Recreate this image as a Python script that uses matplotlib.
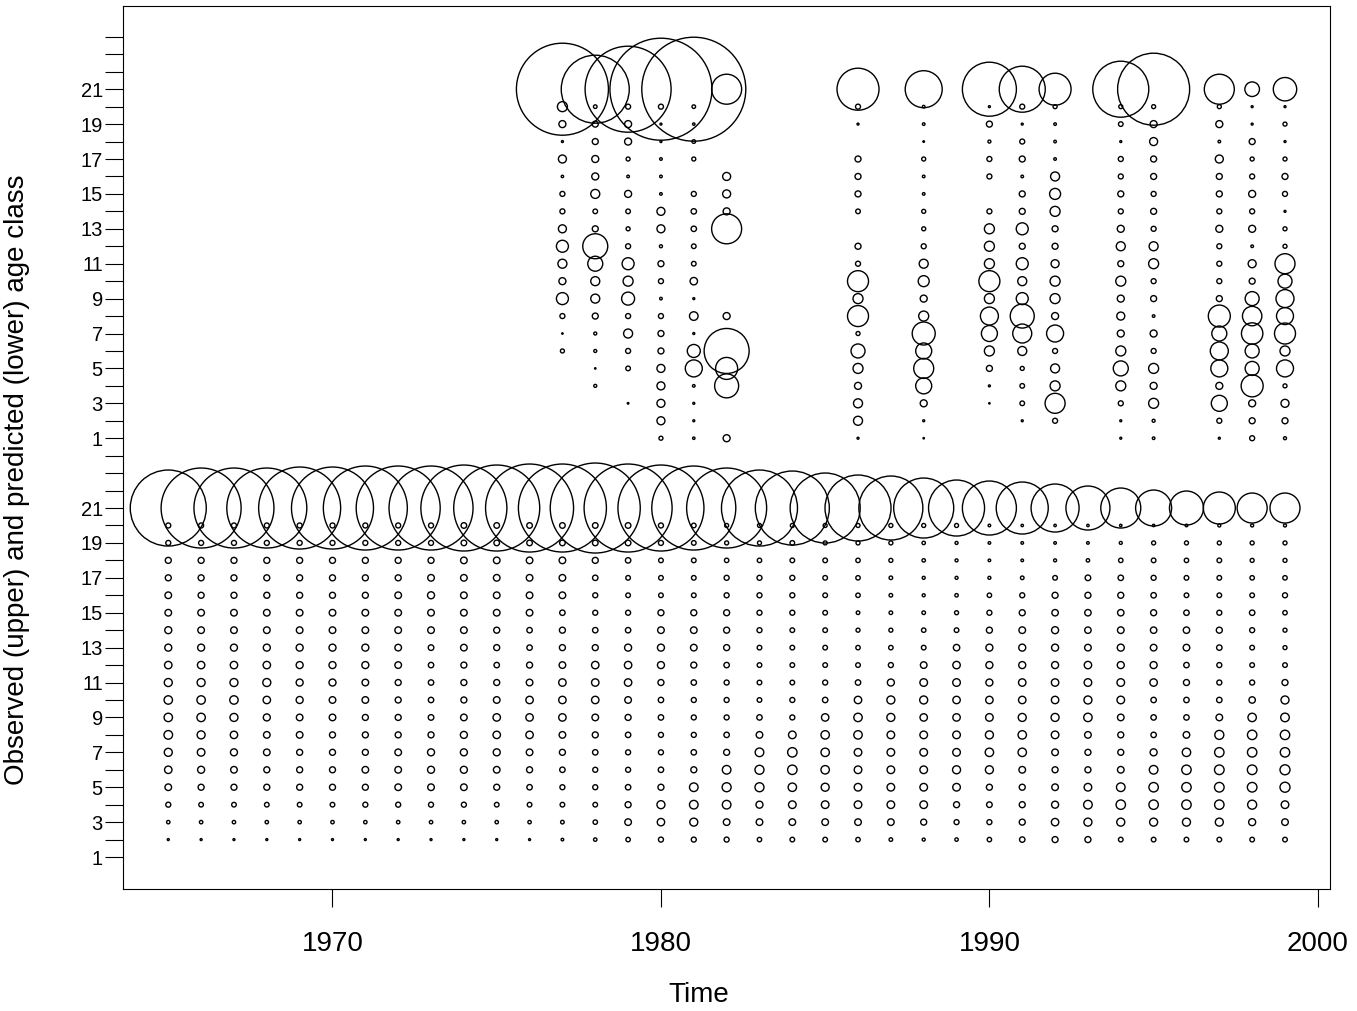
import numpy as np
import matplotlib.pyplot as plt

plt.rcParams['font.family'] = ['Liberation Sans', 'DejaVu Sans']

# bubble radii (symbols-style, circles = radius), predicted catch at age 2..20, 1965-1999
years = list(range(1965, 2000))
pred_plus = [38, 40, 40, 40, 41, 41, 42, 42, 42,
             43, 43, 44, 44, 45, 44, 43, 42, 40, 38,
             37, 35, 33, 32, 30, 28, 27, 26, 24, 22,
             20, 18, 17, 16, 15, 15]   # age 21+
pred = [
    # age 2
    [1, 1, 1, 1, 1, 1, 1, 1, 1, 1, 1, 1, 1.3, 1.7, 2.2, 2.5, 2.5, 2.5, 2.2,
     2.3, 2.3, 2.2, 1.8, 1.5, 1.7, 2.2, 2.7, 3, 3, 2.3, 2.3, 2.3, 2.3, 2.3, 2.3],
    # age 3
    [1.7, 1.7, 1.7, 1.7, 1.7, 1.7, 1.7, 1.7, 1.7, 1.7, 1.7, 1.7, 1.8, 2.2, 3.3, 3.7, 4, 3.3, 3.3,
     3.3, 3.3, 3.3, 3.3, 3, 2.5, 2.5, 3, 3.7, 4, 4, 4, 4, 4, 3.5, 3.3],
    # age 4
    [2.5, 2.3, 2.3, 2.3, 2.3, 2.3, 2.5, 2.5, 2.5, 2.5, 2.3, 2.3, 2.3, 2.3, 3, 4, 4.3, 4.3, 3.5,
     3.8, 3.8, 3.8, 3.8, 3.8, 3, 2.8, 3, 3.5, 4.3, 4.7, 4.7, 4.7, 4.7, 4.5, 3.8],
    # age 5
    [3.3, 3, 3, 3, 3, 3, 3, 3.3, 3.3, 3.3, 3, 2.7, 2.5, 2.5, 2.7, 3, 4.3, 4.5, 4.5,
     4.2, 4, 3.8, 3.8, 3.8, 3.8, 3, 3, 3.3, 3.8, 4.3, 4.7, 4.7, 4.8, 4.8, 5],
    # age 6
    [3.7, 3.5, 3.3, 3, 3, 3, 3.3, 3.3, 3.5, 3.5, 3.3, 3, 2.7, 2.5, 2.5, 2.7, 3, 4.3, 4.5,
     4.7, 4.2, 3.8, 3.8, 3.8, 4, 4, 3.3, 3, 3, 3.3, 4.3, 4.7, 4.8, 4.8, 5],
    # age 7
    [4, 3.8, 3.5, 3.3, 3, 3, 3, 3.3, 3.5, 3.5, 3.5, 3.3, 3, 2.7, 2.5, 2.5, 2.7, 3, 4.3,
     4.7, 4.2, 3.8, 3.8, 3.8, 3.8, 4.2, 4.2, 3.3, 3, 3, 3.5, 4.2, 4.7, 4.7, 4.7],
    # age 8
    [4.3, 4, 3.7, 3.3, 3.3, 3, 3, 3, 3, 3.5, 3.7, 3.7, 3.3, 3, 2.7, 2.5, 2.5, 2.7, 3.3,
     3.8, 4.2, 4.2, 3.8, 3.8, 3.8, 4, 4.2, 3.8, 3.3, 3, 2.7, 3.3, 4.5, 4.7, 4.7],
    # age 9
    [4.2, 4.2, 4, 3.5, 3.3, 3.3, 3, 3, 2.8, 3.3, 3.7, 3.7, 3.7, 3.3, 3, 2.7, 2.5, 2.5, 2.7,
     2.5, 3.7, 4.2, 4, 3.7, 3.7, 3.8, 4, 4, 4.2, 3.3, 2.7, 2.7, 3.3, 4.2, 4.3],
    # age 10
    [4.2, 4.2, 4.2, 3.7, 3.5, 3.3, 3.3, 3, 2.7, 3, 3.3, 3.7, 3.7, 3.7, 3.3, 2.7, 2.5, 2.5, 2.3,
     2.5, 2.7, 3.7, 4, 4, 3.7, 3.7, 3.7, 3.7, 4, 3.8, 2.7, 2.7, 2.7, 3.2, 4],
    # age 11
    [4, 4, 4, 4, 3.5, 3.5, 3.3, 3, 2.7, 3, 3, 3.3, 3.7, 3.7, 3.7, 3, 2.7, 2.5, 2.3,
     2.3, 2.5, 2.7, 3.5, 3.8, 3.8, 3.5, 3.7, 3.7, 3.8, 3.8, 3.7, 3, 2.5, 2.5, 3],
    # age 12
    [3.7, 3.7, 3.7, 3.7, 3.5, 3.5, 3.5, 3.3, 2.7, 3, 2.7, 3, 3.3, 3.7, 3.7, 3.5, 3, 2.7, 2.3,
     2.3, 2.3, 2.3, 2.5, 3.3, 3.7, 3.5, 3.5, 3.5, 3.7, 3.5, 3.5, 2.7, 2.5, 2.3, 2.3],
    # age 13
    [3.5, 3.5, 3.5, 3.5, 3.5, 3.5, 3.5, 3.3, 2.8, 3.3, 3, 2.7, 3, 3, 3.5, 3.5, 3.3, 3, 2.3,
     2.3, 2.3, 2.2, 2.2, 2.3, 3.2, 3.5, 3.5, 3.5, 3.3, 3.5, 3.3, 3.3, 2.7, 2.3, 2],
    # age 14
    [3.5, 3.3, 3.3, 3.3, 3.3, 3.3, 3.3, 3.3, 3.3, 3.3, 3, 2.7, 3, 2.7, 2.7, 3.3, 3.3, 3, 2.5,
     2.3, 2.3, 2, 2, 2.2, 2.3, 3, 3.3, 3.5, 3.2, 3.3, 3.2, 3.2, 3, 2.5, 2],
    # age 15
    [3.3, 3.3, 3.3, 3.3, 3.3, 3.3, 3.3, 3.3, 3.3, 3.3, 3.3, 3.3, 2.7, 2.5, 2.5, 3, 3, 3, 2.5,
     2.5, 2.3, 1.8, 1.8, 1.8, 2, 2.5, 3, 3.2, 3.2, 3.2, 3, 2.7, 2.5, 2.7, 2.2],
    # age 16
    [3.3, 3, 3, 3, 3, 3, 3, 3.3, 3.5, 3.3, 3.3, 3.3, 3.3, 2.5, 2.3, 2.3, 2.3, 2.5, 2.5,
     2.5, 2.3, 2.2, 1.8, 1.5, 1.7, 2.2, 2.5, 3, 3, 3, 2.7, 2.3, 2.3, 2.3, 2.5],
    # age 17
    [3, 3, 3, 3, 3, 3, 3, 3, 3.3, 3.3, 3.3, 3.3, 3.3, 2.7, 2.3, 2.3, 2.3, 2.5, 2.5,
     2.5, 2.3, 2.2, 1.8, 1.5, 1.5, 1.5, 1.8, 2.3, 2.8, 2.7, 2.5, 2.3, 2.3, 2.2, 2.2],
    # age 18
    [3, 3, 3, 3, 3, 3, 3, 3, 3, 3.3, 3.3, 3.3, 3.3, 3, 2.7, 2.3, 2.3, 2.2, 2.2,
     2.3, 2.3, 2.2, 2, 1.7, 1.5, 1.3, 1.3, 1.5, 1.7, 2.2, 2.3, 2.2, 2.3, 2, 2],
    # age 19
    [2.5, 2.5, 2.5, 2.5, 2.5, 2.5, 2.5, 2.5, 2.5, 2.8, 2.8, 2.8, 2.8, 2.8, 2.8, 2.5, 2.3, 2, 2,
     2.3, 2, 2, 2, 1.7, 1.5, 1.3, 1.3, 1.3, 1.3, 1.5, 2, 2, 2, 2, 2],
    # age 20
    [2.5, 2.5, 2.5, 2.5, 2.5, 2.5, 2.5, 2.5, 2.5, 2.8, 2.8, 2.8, 2.8, 2.8, 2.8, 2.5, 2.3, 2, 2,
     2, 2, 2, 2, 2, 2, 1.3, 1.2, 1.2, 1.2, 1.2, 1.2, 1.3, 1.5, 1.5, 1.5],
]

# observed catch at age 1..20 for sampled years
obs_years = [1977, 1978, 1979, 1980, 1981, 1982, 1986, 1988,
             1990, 1991, 1992, 1994, 1995, 1997, 1998, 1999]
obs_plus = [46, 34, 43, 51, 52, 15, 21, 18.5, 27, 23, 16, 28, 36, 15, 7.3, 11.7]
obs_1977 = [0, 0, 0, 0, 0, 2, 0.7, 2.5, 6, 3.5, 4.5, 6, 4, 2.5, 2.5, 1.2, 4, 1, 3.5, 5]
obs_1978 = [0, 0, 0, 1.5, 0.7, 1.5, 1.5, 3, 4.5, 4.5, 7.5, 12.5, 3, 2.3, 4.5, 3.5, 3.5, 3, 3, 1.8]
obs_1979 = [0, 0, 0.8, 0, 2.3, 2.5, 4.5, 2.5, 6.5, 5, 6, 2.5, 2, 2.3, 3.5, 1.3, 2, 3.5, 3.5, 2.5]
obs_1980 = [2, 4, 4, 4, 4, 3, 3, 2.5, 1.3, 2.5, 3, 1.5, 4, 4, 1.3, 1.3, 1.3, 1, 1, 2.5]
obs_1981 = [1.2, 1, 1, 1.3, 8.5, 6.5, 1, 4.3, 1, 3.7, 2.3, 2.3, 2.7, 2.7, 2.5, 0, 2, 1.8, 1.2, 1.8]
obs_1982 = [3.5, 0, 0, 12, 11, 22.5, 0, 3.5, 0, 0, 0, 0, 15, 3.5, 4, 4, 0, 0, 0, 0]
obs_1986 = [1, 4.5, 4.5, 3.5, 5, 7, 2, 10.5, 5, 10.5, 2.5, 3, 0, 2.3, 3, 3, 3, 0, 1, 2.5]
obs_1988 = [0.7, 1, 3.5, 8, 10, 8, 11.5, 5, 3.5, 5.5, 4.5, 2.5, 2, 2, 1.3, 1.3, 2, 0.8, 1.3, 1.3]
obs_1990 = [0, 0, 0.7, 1, 3, 5, 8, 9, 5, 10.5, 5, 5, 5, 2.5, 0, 2.5, 2.5, 1.5, 3, 1]
obs_1991 = [0, 1, 2.3, 2.3, 2, 4.5, 9.5, 12, 6, 4.5, 6, 3, 6, 3, 3, 1.3, 3, 2.5, 1, 2.5]
obs_1992 = [0, 2.5, 10, 5, 4.5, 2.5, 8.5, 3.5, 5, 5, 4, 3, 3, 5, 5.5, 4.5, 1.3, 1.3, 1.3, 2]
obs_1994 = [1, 1, 2.5, 5, 7.5, 5, 3.5, 4, 3.5, 5, 3, 4.5, 3.5, 2.5, 3, 2.5, 2.5, 1, 2.3, 2]
obs_1995 = [1.3, 1.5, 5, 3.5, 5, 2.5, 3.5, 1.3, 3, 2.5, 5, 4.5, 2.5, 3, 2.5, 3, 3, 4, 3.5, 2]
obs_1997 = [1, 2.5, 8, 3.5, 8.5, 9, 7.5, 11, 3, 2.5, 2.5, 2.5, 3.5, 2.5, 3, 3, 4, 1.3, 3.5, 2]
obs_1998 = [2.5, 3, 3.5, 11, 7, 7, 10.7, 9.7, 7, 3, 4, 1.3, 3.5, 2.5, 3.5, 2.5, 2, 3, 1, 1]
obs_1999 = [1.5, 3, 4, 2, 8.5, 5, 10.5, 8.5, 9, 7, 10, 2, 2, 1, 2.5, 3, 2, 1, 2, 1]
obs = [obs_1977, obs_1978, obs_1979, obs_1980, obs_1981, obs_1982, obs_1986, obs_1988,
       obs_1990, obs_1991, obs_1992, obs_1994, obs_1995, obs_1997, obs_1998, obs_1999]

OFFSET = 24      # observed panel drawn above predicted
PT = 0.72        # radius units -> points at 100 dpi


def bubbles(ax, x, y, r):
    x, y, r = np.asarray(x, float), np.asarray(y, float), np.asarray(r, float)
    keep = r > 0
    ax.scatter(x[keep], y[keep], s=(2 * r[keep] * PT) ** 2, marker='o',
               facecolors='none', edgecolors='black', linewidths=1.0)


fig = plt.figure(figsize=(13.57, 10.11), dpi=100)
ax = fig.add_axes([0.0906, 0.1207, 0.8895, 0.8734])

# predicted (lower)
xx, yy, rr = [], [], []
for i, age in enumerate(range(2, 21)):
    xx += years
    yy += [age] * len(years)
    rr += pred[i]
xx += years
yy += [21] * len(years)
rr += pred_plus
bubbles(ax, xx, yy, rr)

# observed (upper)
xx, yy, rr = [], [], []
for j, yr in enumerate(obs_years):
    xx += [yr] * 21
    yy += [a + OFFSET for a in range(1, 22)]
    rr += obs[j] + [obs_plus[j]]
bubbles(ax, xx, yy, rr)

ax.set_xlim(1963.62, 2000.37)
ax.set_ylim(-0.83, 49.77)

ax.set_xticks([1970, 1980, 1990, 2000])
ax.set_xticklabels(['1970', '1980', '1990', '2000'], fontsize=20)
ax.tick_params(axis='x', length=13, width=0.8, pad=17)

yt = list(range(1, 49))
ylab = []
for t in yt:
    if t <= 21 and t % 2 == 1:
        ylab.append(str(t))
    elif 25 <= t <= 45 and (t - OFFSET) % 2 == 1:
        ylab.append(str(t - OFFSET))
    else:
        ylab.append('')
ax.set_yticks(yt)
ax.set_yticklabels(ylab, fontsize=14.5)
ax.tick_params(axis='y', length=13, width=0.8, pad=1.5)

for sp in ax.spines.values():
    sp.set_linewidth(0.8)

ax.set_xlabel('Time', fontsize=20, va='center')
ax.xaxis.set_label_coords(0.477, -0.12)
ax.set_ylabel('Observed (upper) and predicted (lower) age class', fontsize=20)
ax.yaxis.set_label_coords(-0.077, 0.463)

fig.savefig('out.png', dpi=100)
